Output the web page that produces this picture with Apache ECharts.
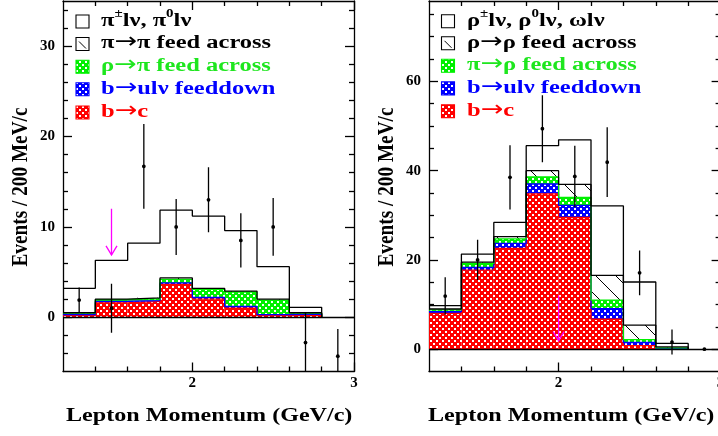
<!DOCTYPE html>
<html><head><meta charset="utf-8">
<script src="https://cdn.jsdelivr.net/npm/echarts@6/dist/echarts.min.js"></script>
<style>html,body{margin:0;padding:0;background:#fff}#c{width:718px;height:436px}</style>
</head><body><div id="c"></div>
<script>
// ---------------- DATA ----------------
const binEdges = [1.2, 1.4, 1.6, 1.8, 2.0, 2.2, 2.4, 2.6, 2.8];
const pointX = [1.3, 1.5, 1.7, 1.9, 2.1, 2.3, 2.5, 2.7, 2.9];
const xTickLabels = [2, 3];

// Left panel (pi): individual stacked contributions per bin
const piBc      = [0.20, 1.60, 1.75, 3.65, 2.00, 1.00, 0.20, 0.30];
const piBuFeed  = [0.10, 0.15, 0.10, 0.15, 0.20, 0.20, 0.10, 0.05];
const piRhoFeed = [0.15, 0.20, 0.20, 0.40, 0.90, 1.60, 1.60, 0.10];
const piPiFeed  = [0.05, 0.05, 0.10, 0.15, 0.10, 0.10, 0.10, 0.05];
const piSignal  = [2.70, 4.30, 6.05, 7.50, 8.00, 6.70, 3.60, 0.60];
const piData    = [1.9, 1.0, 16.7, 10.0, 13.0, 8.5, 10.0, -2.8, -4.3];
const piErr     = [1.4, 2.7, 4.7, 3.1, 3.6, 3.0, 3.2, 3.3, 3.0];
const piYLabels = [0, 10, 20, 30];
const piArrow   = {x: 1.5, from: 12.0, to: 6.9};

// Right panel (rho)
const rhoBc      = [8.0, 17.7, 22.6, 34.8, 29.5, 6.7, 0.8, 0.1];
const rhoBuFeed  = [0.4, 0.6, 1.1, 2.2, 2.7, 2.4, 0.7, 0.1];
const rhoPiFeed  = [0.4, 0.9, 1.0, 1.6, 1.8, 1.9, 0.65, 0.1];
const rhoRhoFeed = [0.2, 0.3, 0.5, 1.4, 2.9, 5.55, 3.25, 0.2];
const rhoSignal  = [0.75, 1.8, 3.2, 5.6, 10.0, 15.55, 9.65, 0.8];
const rhoData    = [11.9, 20.0, 38.5, 49.4, 38.7, 41.9, 17.1, 1.6, 0.0];
const rhoErr     = [4.2, 4.5, 7.2, 7.5, 6.9, 7.8, 5.0, 2.8, 0.0];
const rhoYLabels = [0, 20, 40, 60];
const rhoArrow   = {x: 2.0, from: 12.0, to: 1.9};

const legendLeft  = ['π±lν, π0lν', 'π→π feed across', 'ρ→π feed across', 'b→ulν feeddown', 'b→c'];
const legendRight = ['ρ±lν, ρ0lν, ωlν', 'ρ→ρ feed across', 'π→ρ feed across', 'b→ulν feeddown', 'b→c'];
const xTitle = 'Lepton Momentum (GeV/c)';
const yTitle = 'Events / 200 MeV/c';

// ---------------- STYLE ----------------
const FONT = '"Liberation Serif", "DejaVu Serif", serif';
const RED = '#ff0000', BLUE = '#0000ff', GREEN = '#1ee61e', GREENF = '#00f000', MAG = '#ff00ff';
const LW = 1.3;

function crossPattern(color) {
  const c = document.createElement('canvas'); c.width = 6; c.height = 6;
  const g = c.getContext('2d');
  g.fillStyle = color; g.fillRect(0, 0, 6, 6);
  g.fillStyle = '#fff';
  g.fillRect(1, 1, 2, 2); g.fillRect(4, 4, 2, 2);
  return {image: c, repeat: 'repeat'};
}
function hatchPattern() {
  const s = 20;
  const c = document.createElement('canvas'); c.width = s; c.height = s;
  const g = c.getContext('2d');
  g.fillStyle = '#fff'; g.fillRect(0, 0, s, s);
  g.strokeStyle = '#000'; g.lineWidth = 1;
  g.beginPath(); g.moveTo(-2, -2); g.lineTo(s + 2, s + 2); g.stroke();
  return {image: c, repeat: 'repeat'};
}
const P_RED = crossPattern(RED), P_BLUE = crossPattern(BLUE), P_GREEN = crossPattern(GREENF), P_HATCH = hatchPattern();

function cum(arrs) {
  const out = []; let run = arrs[0].map(() => 0);
  arrs.forEach(a => { const lo = run.slice(); run = run.map((v, i) => v + a[i]); out.push({lo, hi: run.slice()}); });
  return out;
}

// ---------------- AXES ----------------
const grids = [
  {left: 63, top: 1, width: 291, height: 370.5, outerBoundsMode: 'none', containLabel: false},
  {left: 429, top: 1, width: 291.6, height: 370.5, outerBoundsMode: 'none', containLabel: false}
];
const yRanges = [{min: -6, max: 35}, {min: -5, max: 78}];
const yMinor = [
  (() => { const a = []; for (let v = -4; v <= 34; v += 2) if (v % 10 !== 0) a.push(v); return a; })(),
  (() => { const a = []; for (let v = 5; v <= 75; v += 5) if (v % 20 !== 0) a.push(v); return a; })()
];
const xMinor = binEdges.slice(1).filter(v => Math.abs(v - 2) > 1e-6);
const yLabelSets = [piYLabels, rhoYLabels];

const labelStyle = {fontFamily: FONT, fontWeight: 'bold', fontSize: 15, color: '#000'};
const xAxes = [], yAxes = [];
grids.forEach((g, gi) => {
  const base = {type: 'value', gridIndex: gi, min: 1.2, max: 3.0, splitLine: {show: false}};
  xAxes.push(Object.assign({}, base, {position: 'bottom',
    axisLine: {show: true, onZero: false, lineStyle: {color: '#000', width: LW}},
    axisTick: {show: true, inside: true, length: 9, customValues: xTickLabels, lineStyle: {color: '#000', width: LW}},
    axisLabel: Object.assign({show: true, customValues: xTickLabels, margin: 4, formatter: v => String(v)}, labelStyle)}));
  xAxes.push(Object.assign({}, base, {position: 'bottom',
    axisLine: {show: false, onZero: false},
    axisTick: {show: true, inside: true, length: 5, customValues: xMinor, lineStyle: {color: '#000', width: LW}},
    axisLabel: {show: false}}));
  xAxes.push(Object.assign({}, base, {position: 'top',
    axisLine: {show: true, onZero: false, lineStyle: {color: '#000', width: LW}},
    axisTick: {show: true, inside: true, length: 9, customValues: xTickLabels, lineStyle: {color: '#000', width: LW}},
    axisLabel: {show: false}}));
  xAxes.push(Object.assign({}, base, {position: 'top',
    axisLine: {show: false, onZero: false},
    axisTick: {show: true, inside: true, length: 5, customValues: xMinor, lineStyle: {color: '#000', width: LW}},
    axisLabel: {show: false}}));

  const yb = {type: 'value', gridIndex: gi, min: yRanges[gi].min, max: yRanges[gi].max, splitLine: {show: false}};
  yAxes.push(Object.assign({}, yb, {position: 'left',
    axisLine: {show: true, onZero: false, lineStyle: {color: '#000', width: LW}},
    axisTick: {show: true, inside: true, length: 9, customValues: yLabelSets[gi], lineStyle: {color: '#000', width: LW}},
    axisLabel: Object.assign({show: true, customValues: yLabelSets[gi], margin: 8, formatter: v => String(v)}, labelStyle)}));
  yAxes.push(Object.assign({}, yb, {position: 'left',
    axisLine: {show: false, onZero: false},
    axisTick: {show: true, inside: true, length: 5, customValues: yMinor[gi], lineStyle: {color: '#000', width: LW}},
    axisLabel: {show: false}}));
  yAxes.push(Object.assign({}, yb, {position: 'right',
    axisLine: {show: true, onZero: false, lineStyle: {color: '#000', width: LW}},
    axisTick: {show: true, inside: true, length: 9, customValues: yLabelSets[gi], lineStyle: {color: '#000', width: LW}},
    axisLabel: {show: false}}));
  yAxes.push(Object.assign({}, yb, {position: 'right',
    axisLine: {show: false, onZero: false},
    axisTick: {show: true, inside: true, length: 5, customValues: yMinor[gi], lineStyle: {color: '#000', width: LW}},
    axisLabel: {show: false}}));
});

// ---------------- SERIES ----------------
const series = [];
function fillSeries(gi, lo, hi, fill, z) {
  series.push({
    type: 'custom', xAxisIndex: gi * 4, yAxisIndex: gi * 4, clip: true, z, silent: true, animation: false,
    encode: {x: [0, 1], y: [2, 3]},
    data: lo.map((l, i) => [binEdges[i], binEdges[i + 1], l, hi[i]]),
    renderItem(params, api) {
      const p0 = api.coord([api.value(0), api.value(3)]);
      const p1 = api.coord([api.value(1), api.value(2)]);
      return {type: 'rect', shape: {x: p0[0], y: p0[1], width: p1[0] - p0[0], height: p1[1] - p0[1]}, style: {fill}};
    }
  });
}
function stepSeries(gi, tops, color, z) {
  const data = tops.map((v, i) => [binEdges[i], v]);
  data.push([binEdges[binEdges.length - 1], tops[tops.length - 1]]);
  data.push([binEdges[binEdges.length - 1], 0]);
  series.push({type: 'line', xAxisIndex: gi * 4, yAxisIndex: gi * 4, step: 'end', data, symbol: 'none',
    silent: true, animation: false, z, lineStyle: {color, width: LW}});
}
function pointsSeries(gi, ys, errs) {
  series.push({
    type: 'custom', xAxisIndex: gi * 4, yAxisIndex: gi * 4, clip: true, z: 8, silent: true, animation: false,
    encode: {x: 0, y: 1},
    data: ys.map((y, i) => [pointX[i], y, errs[i]]),
    renderItem(params, api) {
      const x = api.value(0), y = api.value(1), e = api.value(2);
      const c = api.coord([x, y]), t = api.coord([x, y + e]), b = api.coord([x, y - e]);
      return {type: 'group', children: [
        {type: 'line', shape: {x1: t[0], y1: t[1], x2: b[0], y2: b[1]}, style: {stroke: '#000', lineWidth: LW}},
        {type: 'circle', shape: {cx: c[0], cy: c[1], r: 1.9}, style: {fill: '#000'}}
      ]};
    }
  });
}
function arrowSeries(gi, a) {
  series.push({
    type: 'custom', xAxisIndex: gi * 4, yAxisIndex: gi * 4, clip: true, z: 9, silent: true, animation: false,
    encode: {x: 0, y: [1, 2]},
    data: [[a.x, a.from, a.to]],
    renderItem(params, api) {
      const s = api.coord([api.value(0), api.value(1)]), e = api.coord([api.value(0), api.value(2)]);
      return {type: 'group', children: [
        {type: 'line', shape: {x1: s[0], y1: s[1], x2: e[0], y2: e[1]}, style: {stroke: MAG, lineWidth: 1.3}},
        {type: 'polyline', shape: {points: [[e[0] - 5.5, e[1] - 9], [e[0], e[1]], [e[0] + 5.5, e[1] - 9]]}, style: {stroke: MAG, lineWidth: 1.3, fill: null}}
      ]};
    }
  });
}
function zeroLine(gi) {
  series.push({type: 'line', xAxisIndex: gi * 4, yAxisIndex: gi * 4, data: [], silent: true, animation: false, z: 4,
    markLine: {silent: true, symbol: 'none', animation: false, label: {show: false},
      lineStyle: {color: '#000', type: 'solid', width: LW}, data: [{yAxis: 0}]}});
}

function buildPanel(gi, bc, bu, cross, same, signal, data, err, arrow) {
  const st = cum([bc, bu, cross, same, signal]);
  fillSeries(gi, st[0].lo, st[0].hi, P_RED, 2);
  fillSeries(gi, st[1].lo, st[1].hi, P_BLUE, 2);
  fillSeries(gi, st[2].lo, st[2].hi, P_GREEN, 2);
  fillSeries(gi, st[3].lo, st[3].hi, P_HATCH, 2);
  stepSeries(gi, st[0].hi, RED, 3);
  stepSeries(gi, st[1].hi, BLUE, 3);
  stepSeries(gi, st[2].hi, GREENF, 3);
  stepSeries(gi, st[3].hi, '#000', 3);
  stepSeries(gi, st[4].hi, '#000', 3);
  zeroLine(gi);
  pointsSeries(gi, data, err);
  arrowSeries(gi, arrow);
}
buildPanel(0, piBc, piBuFeed, piRhoFeed, piPiFeed, piSignal, piData, piErr, piArrow);
buildPanel(1, rhoBc, rhoBuFeed, rhoPiFeed, rhoRhoFeed, rhoSignal, rhoData, rhoErr, rhoArrow);

// ---------------- TEXT / LEGEND (graphic) ----------------
const TFS = 24.1, TSY = 0.8, TSX_Y = 0.8;    // title font size, squeezes
const LFS = 24.5, LSY = 0.8, AFS = 27;       // legend font, arrow font
function tokenize(label) {
  const toks = []; let buf = '';
  for (let i = 0; i < label.length; i++) {
    const ch = label[i], prev = label[i - 1];
    let kind = null;
    if (ch === '±' || (ch === '0' && (prev === 'π' || prev === 'ρ'))) kind = 's';
    else if (ch === '→') kind = 'r';
    if (kind) { if (buf) toks.push('{a|' + buf + '}'); buf = ''; toks.push('{' + kind + '|' + ch + '}'); }
    else buf += ch;
  }
  if (buf) toks.push('{a|' + buf + '}');
  return toks.join('');
}
function legendText(label, color, x, y) {
  const lh = LFS + 4;
  const rich = {
    a: {fontSize: LFS, fontWeight: 'bold', fontFamily: FONT, fill: color, lineHeight: lh, verticalAlign: 'bottom'},
    s: {fontSize: Math.round(LFS * 0.62), fontWeight: 'bold', fontFamily: FONT, fill: color, verticalAlign: 'top', lineHeight: lh},
    r: {fontSize: AFS, fontWeight: 'normal', fontFamily: '"DejaVu Sans", sans-serif', fill: color, lineHeight: lh - 5, verticalAlign: 'bottom'}
  };
  return {type: 'text', x, y: y - 2, scaleY: LSY, z: 100, silent: true,
    style: {text: tokenize(label), rich, fill: color, font: 'bold ' + LFS + 'px ' + FONT, textAlign: 'left', align: 'left',
      textVerticalAlign: 'middle', verticalAlign: 'middle'}};
}
function legendIcon(kind, color, x, yc) {
  const y = yc - 6.5, s = 13;
  const kids = [{type: 'rect', shape: {x, y, width: s, height: s},
    style: {fill: kind === 'empty' || kind === 'hatch' ? '#fff' : kind, stroke: color, lineWidth: 1.1}}];
  if (kind === 'hatch') kids.push({type: 'line', shape: {x1: x + 3, y1: y + 4, x2: x + 10, y2: y + 11}, style: {stroke: '#000', lineWidth: 1}});
  return {type: 'group', z: 100, silent: true, children: kids};
}
const graphics = [];
function legend(labels, boxX, textX, ys) {
  const kinds = ['empty', 'hatch', P_GREEN, P_BLUE, P_RED];
  const cols = ['#000', '#000', GREEN, BLUE, RED];
  labels.forEach((lab, i) => {
    graphics.push(legendIcon(kinds[i], i === 2 ? GREENF : cols[i], boxX, ys[i]));
    graphics.push(legendText(lab, cols[i], textX, ys[i]));
  });
}
legend(legendLeft, 76, 101, [21.5, 44, 66.8, 89.3, 112.5]);
legend(legendRight, 441.5, 467, [21.3, 43.3, 65.8, 88.4, 111.3]);

function xTitleEl(x) {
  return {type: 'text', x, y: 416, scaleY: TSY, z: 100, silent: true,
    style: {text: xTitle, fill: '#000', font: 'bold ' + TFS + 'px ' + FONT, textAlign: 'left', align: 'left', textVerticalAlign: 'middle', verticalAlign: 'middle'}};
}
function yTitleEl(x) {
  return {type: 'text', x, y: 187, rotation: Math.PI / 2, scaleX: TSX_Y, z: 100, silent: true,
    style: {text: yTitle, fill: '#000', font: 'bold ' + TFS + 'px ' + FONT, textAlign: 'center', align: 'center', textVerticalAlign: 'middle', verticalAlign: 'middle'}};
}
graphics.push(xTitleEl(66), xTitleEl(428), yTitleEl(21), yTitleEl(387));

const chart = echarts.init(document.getElementById('c'), null, {renderer: 'canvas'});
chart.setOption({
  animation: false,
  backgroundColor: '#fff',
  grid: grids,
  xAxis: xAxes,
  yAxis: yAxes,
  series,
  graphic: {elements: graphics}
});
</script>
</body></html>
